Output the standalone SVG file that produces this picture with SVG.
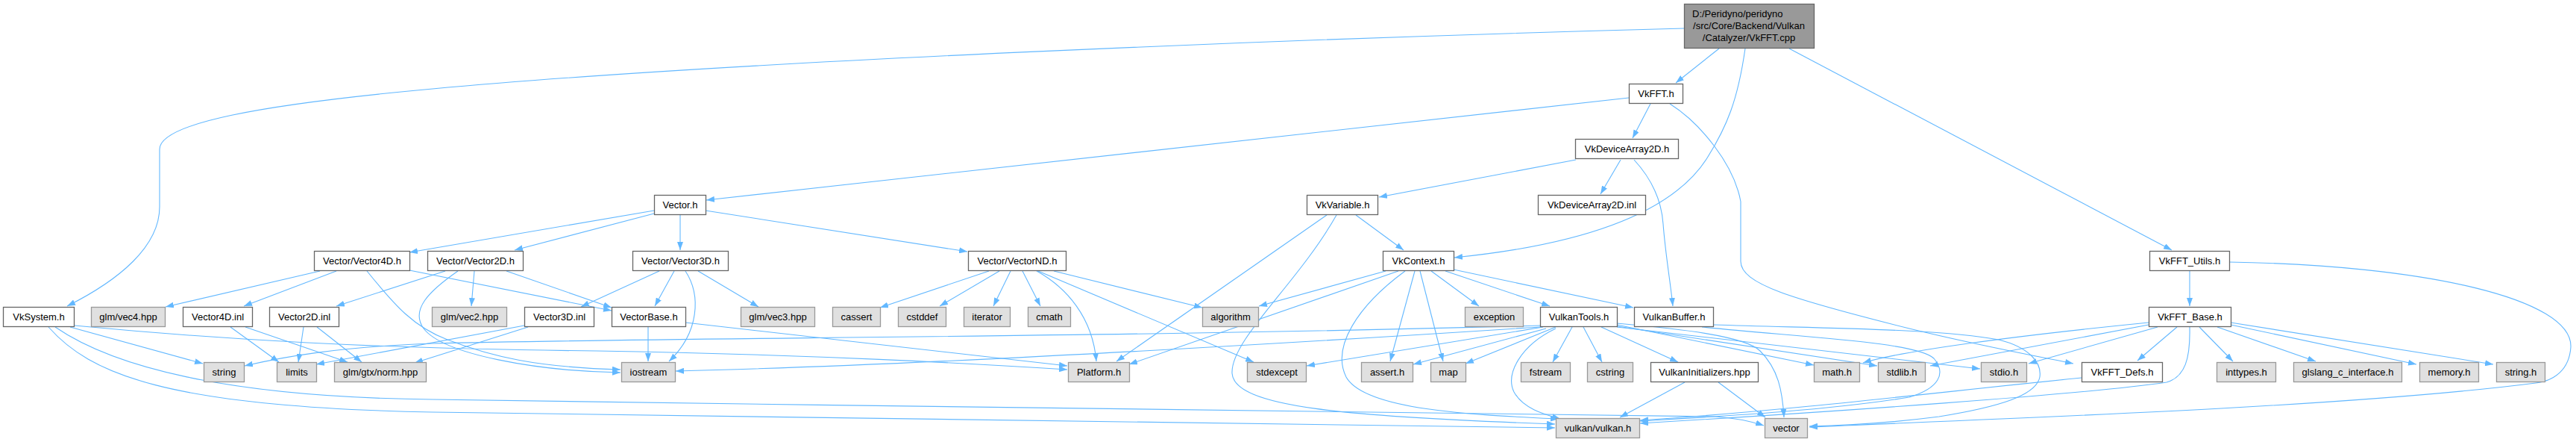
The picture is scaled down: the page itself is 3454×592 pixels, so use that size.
<svg xmlns="http://www.w3.org/2000/svg" width="3454" height="592" viewBox="0 0 3454 592">
<style>
.w rect{fill:#ffffff;stroke:#666666;stroke-width:1.3}
.g rect{fill:#e0e0e0;stroke:#999999;stroke-width:1.3}
.r rect{fill:#999999;stroke:#666666;stroke-width:1.3}
text{font-family:"Liberation Sans",Arial,sans-serif;font-size:13px;fill:#000000;text-anchor:middle}
#edges path{fill:none;stroke:#63b8ff;stroke-width:1.1;marker-end:url(#a)}
</style>
<defs>
<marker id="a" viewBox="0 0 11 8" refX="11" refY="4" markerWidth="11" markerHeight="8" markerUnits="userSpaceOnUse" orient="auto"><path d="M0,0 L11,4 L0,8 z" fill="#63b8ff"/></marker>
</defs>
<rect width="3454" height="592" fill="#ffffff"/>
<g id="edges">
<path d="M2258,38 C1800,50 1000,80 580,119 C350,140 214,165 214,200 L214,277 C214,330 160,375 90,410"/>
<path d="M2305,65 L2247,111"/>
<path d="M2340,65 C2330,135 2315,170 2290,210 C2250,275 2150,325 1950,345"/>
<path d="M2399,65 L2912,335"/>
<path d="M2184,131 L947,268"/>
<path d="M2213,139 L2189,185"/>
<path d="M2239,139 C2280,165 2325,220 2334,270 L2334,350 C2334,380 2400,400 2560,440 C2650,462 2720,475 2780,487"/>
<path d="M2113,214 L1849,264"/>
<path d="M2173,214 L2146,260"/>
<path d="M2191,214 C2215,240 2228,270 2230,300 C2233,340 2240,380 2243,410"/>
<path d="M1818,288 L1882,335"/>
<path d="M1779,288 L1497,484"/>
<path d="M1792,288 C1740,380 1650,455 1652,500 C1655,545 1800,558 2085,568"/>
<path d="M1858,363 L1688,410"/>
<path d="M1875,363 L1514,488"/>
<path d="M1884,363 C1820,410 1785,465 1805,505 C1830,550 1980,556 2090,561"/>
<path d="M1897,363 L1864,484"/>
<path d="M1904,363 L1935,484"/>
<path d="M1919,363 L1983,410"/>
<path d="M1938,363 L2078,410"/>
<path d="M1949,361 L2190,412"/>
<path d="M1326,363 L1180,412"/>
<path d="M1340,363 L1260,410"/>
<path d="M1355,363 L1332,410"/>
<path d="M1371,363 L1395,410"/>
<path d="M1390,363 C1430,385 1465,425 1470,484"/>
<path d="M1392,363 L1681,485"/>
<path d="M1413,363 L1612,412"/>
<path d="M877,282 L549,338"/>
<path d="M877,286 L690,335"/>
<path d="M912,288 L912,335"/>
<path d="M946,282 L1297,337"/>
<path d="M429,363 L222,411"/>
<path d="M451,363 L327,410"/>
<path d="M492,363 C530,410 555,438 600,455 C660,478 720,492 832,495"/>
<path d="M549,362 L820,416"/>
<path d="M597,363 L451,410"/>
<path d="M614,363 C575,390 550,415 568,440 C595,475 720,497 832,499"/>
<path d="M636,363 L632,410"/>
<path d="M679,363 L820,412"/>
<path d="M884,363 L779,411"/>
<path d="M904,363 L878,410"/>
<path d="M919,363 C940,395 938,445 897,484"/>
<path d="M936,363 L1017,411"/>
<path d="M869,438 L869,484"/>
<path d="M919,432 L1431,490"/>
<path d="M309,438 L374,485"/>
<path d="M329,438 L466,485"/>
<path d="M407,438 L400,485"/>
<path d="M425,438 L485,485"/>
<path d="M703,436 L424,488"/>
<path d="M708,438 L556,486"/>
<path d="M94,438 L272,487"/>
<path d="M100,436 C300,455 500,467 800,470 C1100,475 1300,487 1431,495"/>
<path d="M74,438 C150,490 300,532 580,535 C1200,545 2000,552 2300,558 C2330,560 2350,565 2365,570"/>
<path d="M65,438 C120,500 220,545 580,552 C1200,562 1800,568 2085,573"/>
<path d="M2065,436 C1500,452 900,452 580,460 C450,465 380,478 328,490"/>
<path d="M2065,438 C1600,468 1200,490 906,497"/>
<path d="M2069,438 L1752,490"/>
<path d="M2073,440 L1895,488"/>
<path d="M2086,438 L1965,487"/>
<path d="M2086,440 C2040,462 2018,500 2030,525 C2042,547 2070,555 2092,561"/>
<path d="M2108,438 L2082,485"/>
<path d="M2123,438 L2148,485"/>
<path d="M2147,438 L2250,485"/>
<path d="M2168,435 L2432,489"/>
<path d="M2168,437 L2517,490"/>
<path d="M2168,438 L2655,494"/>
<path d="M2168,433 C2250,440 2340,450 2360,470 C2385,495 2390,525 2392,559"/>
<path d="M2259,512 L2172,559"/>
<path d="M2304,512 L2367,559"/>
<path d="M2282,438 C2420,452 2570,458 2593,480 C2610,500 2600,520 2560,532 C2450,550 2300,558 2199,564"/>
<path d="M2298,435 C2450,440 2600,440 2680,455 C2720,465 2738,485 2735,505 C2730,530 2680,545 2600,558 C2530,567 2470,570 2426,571"/>
<path d="M2949,438 L2994,484"/>
<path d="M2973,438 L3105,484"/>
<path d="M2991,435 L3240,488"/>
<path d="M2991,432 L3343,488"/>
<path d="M2919,438 L2866,483"/>
<path d="M2936,438 C2937,480 2930,505 2905,512 C2800,528 2450,552 2199,567"/>
<path d="M2881,432 C2700,450 2550,470 2498,486"/>
<path d="M2881,435 L2588,490"/>
<path d="M2893,438 L2720,487"/>
<path d="M2791,506 C2600,525 2400,550 2199,563"/>
<path d="M2936,363 L2936,410"/>
<path d="M2989,351 C3250,355 3450,400 3447,465 C3445,495 3425,510 3400,513 C3150,545 2700,560 2426,572"/>
</g>
<g id="root" class="r"><rect x="2258.5" y="5.5" width="174" height="59"/><text x="2269" y="23" style="text-anchor:start">D:/Peridyno/peridyno</text><text x="2345" y="39">/src/Core/Backend/Vulkan</text><text x="2345" y="55">/Catalyzer/VkFFT.cpp</text></g>
<g id="VkFFT_h" class="w"><rect x="2184.5" y="112.5" width="72" height="26"/><text x="2220.5" y="130">VkFFT.h</text></g>
<g id="VkDeviceArray2D_h" class="w"><rect x="2112.5" y="186.5" width="138" height="26"/><text x="2181.5" y="204">VkDeviceArray2D.h</text></g>
<g id="Vector_h" class="w"><rect x="877.5" y="261.5" width="69" height="26"/><text x="912" y="279">Vector.h</text></g>
<g id="VkVariable_h" class="w"><rect x="1752.5" y="261.5" width="95" height="26"/><text x="1800" y="279">VkVariable.h</text></g>
<g id="VkDeviceArray2D_inl" class="w"><rect x="2062.5" y="261.5" width="144" height="26"/><text x="2134.5" y="279">VkDeviceArray2D.inl</text></g>
<g id="Vector4D_h" class="w"><rect x="421.5" y="336.5" width="128" height="26"/><text x="485.5" y="354">Vector/Vector4D.h</text></g>
<g id="Vector2D_h" class="w"><rect x="573.5" y="336.5" width="128" height="26"/><text x="637.5" y="354">Vector/Vector2D.h</text></g>
<g id="Vector3D_h" class="w"><rect x="848.5" y="336.5" width="128" height="26"/><text x="912.5" y="354">Vector/Vector3D.h</text></g>
<g id="VectorND_h" class="w"><rect x="1298.5" y="336.5" width="131" height="26"/><text x="1364" y="354">Vector/VectorND.h</text></g>
<g id="VkContext_h" class="w"><rect x="1854.5" y="336.5" width="95" height="26"/><text x="1902" y="354">VkContext.h</text></g>
<g id="VkFFT_Utils_h" class="w"><rect x="2882.5" y="336.5" width="107" height="26"/><text x="2936" y="354">VkFFT_Utils.h</text></g>
<g id="VkSystem_h" class="w"><rect x="4.5" y="411.5" width="95" height="26"/><text x="52" y="429">VkSystem.h</text></g>
<g id="glm_vec4" class="g"><rect x="122.5" y="411.5" width="99" height="26"/><text x="172" y="429">glm/vec4.hpp</text></g>
<g id="Vector4D_inl" class="w"><rect x="245.5" y="411.5" width="93" height="26"/><text x="292" y="429">Vector4D.inl</text></g>
<g id="Vector2D_inl" class="w"><rect x="361.5" y="411.5" width="93" height="26"/><text x="408" y="429">Vector2D.inl</text></g>
<g id="glm_vec2" class="g"><rect x="579.5" y="411.5" width="100" height="26"/><text x="629.5" y="429">glm/vec2.hpp</text></g>
<g id="Vector3D_inl" class="w"><rect x="703.5" y="411.5" width="93" height="26"/><text x="750" y="429">Vector3D.inl</text></g>
<g id="VectorBase_h" class="w"><rect x="820.5" y="411.5" width="99" height="26"/><text x="870" y="429">VectorBase.h</text></g>
<g id="glm_vec3" class="g"><rect x="993.5" y="411.5" width="99" height="26"/><text x="1043" y="429">glm/vec3.hpp</text></g>
<g id="cassert" class="g"><rect x="1116.5" y="411.5" width="64" height="26"/><text x="1148.5" y="429">cassert</text></g>
<g id="cstddef" class="g"><rect x="1204.5" y="411.5" width="64" height="26"/><text x="1236.5" y="429">cstddef</text></g>
<g id="iterator" class="g"><rect x="1292.5" y="411.5" width="62" height="26"/><text x="1323.5" y="429">iterator</text></g>
<g id="cmath" class="g"><rect x="1378.5" y="411.5" width="57" height="26"/><text x="1407" y="429">cmath</text></g>
<g id="algorithm" class="g"><rect x="1612.5" y="411.5" width="75" height="26"/><text x="1650" y="429">algorithm</text></g>
<g id="exception" class="g"><rect x="1964.5" y="411.5" width="78" height="26"/><text x="2003.5" y="429">exception</text></g>
<g id="VulkanTools_h" class="w"><rect x="2065.5" y="411.5" width="103" height="26"/><text x="2117" y="429">VulkanTools.h</text></g>
<g id="VulkanBuffer_h" class="w"><rect x="2191.5" y="411.5" width="106" height="26"/><text x="2244.5" y="429">VulkanBuffer.h</text></g>
<g id="VkFFT_Base_h" class="w"><rect x="2881.5" y="411.5" width="110" height="26"/><text x="2936.5" y="429">VkFFT_Base.h</text></g>
<g id="string" class="g"><rect x="273.5" y="485.5" width="54" height="26"/><text x="300.5" y="503">string</text></g>
<g id="limits" class="g"><rect x="371.5" y="485.5" width="53" height="26"/><text x="398" y="503">limits</text></g>
<g id="glm_gtx_norm" class="g"><rect x="448.5" y="485.5" width="123" height="26"/><text x="510" y="503">glm/gtx/norm.hpp</text></g>
<g id="iostream" class="g"><rect x="833.5" y="485.5" width="72" height="26"/><text x="869.5" y="503">iostream</text></g>
<g id="Platform_h" class="g"><rect x="1432.5" y="485.5" width="82" height="26"/><text x="1473.5" y="503">Platform.h</text></g>
<g id="stdexcept" class="g"><rect x="1672.5" y="485.5" width="79" height="26"/><text x="1712" y="503">stdexcept</text></g>
<g id="assert_h" class="g"><rect x="1825.5" y="485.5" width="69" height="26"/><text x="1860" y="503">assert.h</text></g>
<g id="map" class="g"><rect x="1918.5" y="485.5" width="47" height="26"/><text x="1942" y="503">map</text></g>
<g id="fstream" class="g"><rect x="2039.5" y="485.5" width="66" height="26"/><text x="2072.5" y="503">fstream</text></g>
<g id="cstring" class="g"><rect x="2128.5" y="485.5" width="61" height="26"/><text x="2159" y="503">cstring</text></g>
<g id="VulkanInitializers_hpp" class="w"><rect x="2213.5" y="485.5" width="144" height="26"/><text x="2285.5" y="503">VulkanInitializers.hpp</text></g>
<g id="math_h" class="g"><rect x="2432.5" y="485.5" width="61" height="26"/><text x="2463" y="503">math.h</text></g>
<g id="stdlib_h" class="g"><rect x="2518.5" y="485.5" width="63" height="26"/><text x="2550" y="503">stdlib.h</text></g>
<g id="stdio_h" class="g"><rect x="2656.5" y="485.5" width="61" height="26"/><text x="2687" y="503">stdio.h</text></g>
<g id="VkFFT_Defs_h" class="w"><rect x="2791.5" y="485.5" width="108" height="26"/><text x="2845.5" y="503">VkFFT_Defs.h</text></g>
<g id="inttypes_h" class="g"><rect x="2972.5" y="485.5" width="79" height="26"/><text x="3012" y="503">inttypes.h</text></g>
<g id="glslang_c_interface_h" class="g"><rect x="3075.5" y="485.5" width="145" height="26"/><text x="3148" y="503">glslang_c_interface.h</text></g>
<g id="memory_h" class="g"><rect x="3244.5" y="485.5" width="79" height="26"/><text x="3284" y="503">memory.h</text></g>
<g id="string_h" class="g"><rect x="3347.5" y="485.5" width="65" height="26"/><text x="3380" y="503">string.h</text></g>
<g id="vulkan_h" class="g"><rect x="2086.5" y="560.5" width="112" height="26"/><text x="2142.5" y="578">vulkan/vulkan.h</text></g>
<g id="vector" class="g"><rect x="2366.5" y="560.5" width="57" height="26"/><text x="2395" y="578">vector</text></g>
</svg>
